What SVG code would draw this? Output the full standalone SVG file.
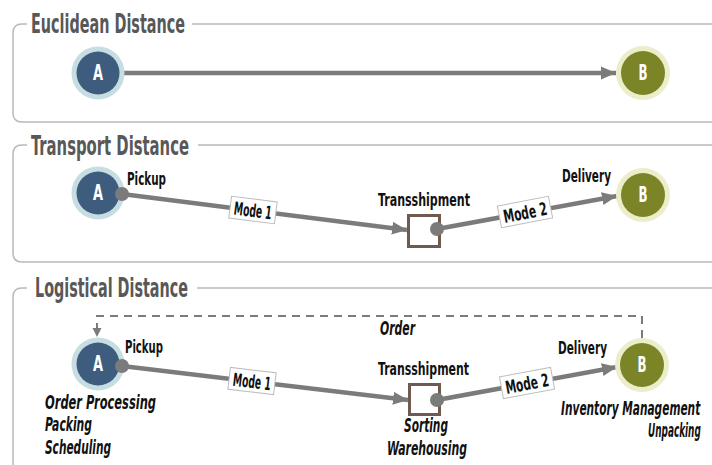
<svg xmlns="http://www.w3.org/2000/svg" width="712" height="465" viewBox="0 0 712 465">
  <style>
    .panel { fill: none; stroke: #b9b9b9; stroke-width: 1.5; }
    .title { font-family: "Liberation Sans Narrow", "DejaVu Sans Condensed", "Liberation Sans", sans-serif; font-stretch: condensed; font-size: 26px; fill: #585858; font-weight: bold; }
    .lbl { font-family: "Liberation Sans Narrow", "DejaVu Sans Condensed", "Liberation Sans", sans-serif; font-stretch: condensed; font-size: 18px; fill: #111; font-weight: bold; }
    .act { font-family: "Liberation Sans Narrow", "DejaVu Sans Condensed", "Liberation Sans", sans-serif; font-stretch: condensed; font-size: 19px; fill: #111; font-weight: bold; font-style: italic; }
    .nodeTxt { font-family: "Liberation Sans Narrow", "DejaVu Sans Condensed", "Liberation Sans", sans-serif; font-stretch: condensed; font-size: 21px; fill: #fff; font-weight: bold; text-anchor: middle; }
    .haloA { fill: #c6dde2; }
    .coreA { fill: #3e5c7e; }
    .haloB { fill: #eceecb; }
    .coreB { fill: #7b8427; }
    .flow { fill: none; stroke: #7b7b7b; stroke-width: 4.5; }
    .dot { fill: #7b7b7b; }
    .hub { fill: #fff; stroke: #6e5a4f; stroke-width: 3; }
    .tag { fill: #fff; stroke: #bcbcbc; stroke-width: 1; }
    .dash { fill: none; stroke: #7b7b7b; stroke-width: 2; stroke-dasharray: 8 6; }
  </style>
  <defs>
    <marker id="arrow" markerUnits="userSpaceOnUse" markerWidth="16" markerHeight="16" viewBox="0 0 16 16" refX="15" refY="8" orient="auto">
      <path d="M0,1.5 L15,8 L0,14.5 z" fill="#7b7b7b"/>
    </marker>
    <marker id="arrowSmall" markerUnits="userSpaceOnUse" markerWidth="10" markerHeight="10" viewBox="0 0 10 10" refX="9" refY="5" orient="auto">
      <path d="M0,0.5 L9,5 L0,9.5 z" fill="#7b7b7b"/>
    </marker>
  </defs>

  <rect width="712" height="465" fill="#fff"/>

  <!-- panel frames -->
  <g id="panels">
    <path class="panel" d="M27 24 H22 Q13 24 13 33 V113 Q13 122 22 122 H720 M192 24 H720"/>
    <path class="panel" d="M27 145 H22 Q13 145 13 154 V253 Q13 262 22 262 H720 M198 145 H720"/>
    <path class="panel" d="M27 288 H22 Q13 288 13 297 V480 M197 288 H720"/>
    <text class="title" x="31" y="33" textLength="154" lengthAdjust="spacingAndGlyphs">Euclidean Distance</text>
    <text class="title" x="31" y="155" textLength="158" lengthAdjust="spacingAndGlyphs">Transport Distance</text>
    <text class="title" x="35" y="297" textLength="153" lengthAdjust="spacingAndGlyphs">Logistical Distance</text>
  </g>

  <!-- connectors -->
  <g id="connectors">
    <line class="flow" x1="124" y1="73" x2="616" y2="73" marker-end="url(#arrow)"/>

    <line class="flow" x1="122" y1="194" x2="407" y2="230" marker-end="url(#arrow)"/>
    <line class="flow" x1="437" y1="229" x2="617" y2="196" marker-end="url(#arrow)"/>

    <line class="flow" x1="122" y1="366" x2="408" y2="400" marker-end="url(#arrow)"/>
    <line class="flow" x1="437" y1="400" x2="617" y2="367" marker-end="url(#arrow)"/>
    <path class="dash" d="M642 338 V316 H97 V337" marker-end="url(#arrowSmall)"/>
  </g>

  <!-- Euclidean panel nodes -->
  <g id="e-a">
    <circle class="haloA" cx="98" cy="73" r="26.5"/>
    <circle class="coreA" cx="98" cy="73" r="21.5"/>
    <text class="nodeTxt" x="98" y="80" textLength="10" lengthAdjust="spacingAndGlyphs">A</text>
  </g>
  <g id="e-b">
    <circle class="haloB" cx="643" cy="73" r="27"/>
    <circle class="coreB" cx="643" cy="73" r="22"/>
    <text class="nodeTxt" x="643" y="80" textLength="9" lengthAdjust="spacingAndGlyphs">B</text>
  </g>

  <!-- Transport panel nodes -->
  <g id="t-a">
    <circle class="haloA" cx="98" cy="193" r="26.5"/>
    <circle class="coreA" cx="98" cy="193" r="21.5"/>
    <text class="nodeTxt" x="98" y="200" textLength="10" lengthAdjust="spacingAndGlyphs">A</text>
    <circle class="dot" cx="122" cy="194" r="7"/>
    <text class="lbl" x="127" y="185" textLength="39" lengthAdjust="spacingAndGlyphs">Pickup</text>
  </g>
  <g id="t-hub">
    <rect class="hub" x="408.5" y="215.5" width="31" height="31"/>
    <circle class="dot" cx="437" cy="229" r="7"/>
    <text class="lbl" x="378" y="206" textLength="92" lengthAdjust="spacingAndGlyphs">Transshipment</text>
  </g>
  <g id="t-b">
    <circle class="haloB" cx="643" cy="195" r="27"/>
    <circle class="coreB" cx="643" cy="195" r="22"/>
    <text class="nodeTxt" x="643" y="202" textLength="9" lengthAdjust="spacingAndGlyphs">B</text>
    <text class="lbl" x="562" y="182" textLength="49" lengthAdjust="spacingAndGlyphs">Delivery</text>
  </g>
  <g id="t-mode1" transform="translate(253 210) rotate(7.2)">
    <rect class="tag" x="-23" y="-11" width="46" height="22"/>
    <text class="lbl" x="-19" y="7" textLength="38" lengthAdjust="spacingAndGlyphs">Mode 1</text>
  </g>
  <g id="t-mode2" transform="translate(525 212) rotate(-11)">
    <rect class="tag" x="-26" y="-11" width="52" height="22"/>
    <text class="lbl" x="-22" y="7" textLength="44" lengthAdjust="spacingAndGlyphs">Mode 2</text>
  </g>

  <!-- Logistical panel nodes -->
  <g id="l-a">
    <circle class="haloA" cx="98" cy="364" r="26.5"/>
    <circle class="coreA" cx="98" cy="364" r="21.5"/>
    <text class="nodeTxt" x="98" y="371" textLength="10" lengthAdjust="spacingAndGlyphs">A</text>
    <circle class="dot" cx="122" cy="366" r="7"/>
    <text class="lbl" x="125" y="353" textLength="38" lengthAdjust="spacingAndGlyphs">Pickup</text>
    <text class="act" x="45" y="409" textLength="111" lengthAdjust="spacingAndGlyphs">Order Processing</text>
    <text class="act" x="45" y="431" textLength="47" lengthAdjust="spacingAndGlyphs">Packing</text>
    <text class="act" x="45" y="454" textLength="66" lengthAdjust="spacingAndGlyphs">Scheduling</text>
  </g>
  <g id="l-hub">
    <rect class="hub" x="409.5" y="384.5" width="30" height="30"/>
    <circle class="dot" cx="437" cy="400" r="7"/>
    <text class="lbl" x="378" y="375" textLength="91" lengthAdjust="spacingAndGlyphs">Transshipment</text>
    <text class="act" x="404" y="432" textLength="44" lengthAdjust="spacingAndGlyphs">Sorting</text>
    <text class="act" x="387" y="455" textLength="80" lengthAdjust="spacingAndGlyphs">Warehousing</text>
  </g>
  <g id="l-b">
    <circle class="haloB" cx="642" cy="365" r="27"/>
    <circle class="coreB" cx="642" cy="365" r="22"/>
    <text class="nodeTxt" x="642" y="372" textLength="9" lengthAdjust="spacingAndGlyphs">B</text>
    <text class="lbl" x="558" y="354" textLength="49" lengthAdjust="spacingAndGlyphs">Delivery</text>
    <!-- horizontally squeezed so the long captions stay inside the right edge -->
    <text class="act" transform="translate(561 415) scale(0.6 1)" textLength="232" lengthAdjust="spacingAndGlyphs">Inventory Management</text>
    <text class="act" transform="translate(648 437) scale(0.6 1)" textLength="88" lengthAdjust="spacingAndGlyphs">Unpacking</text>
  </g>
  <g id="l-order">
    <text class="act" x="380" y="335" textLength="35" lengthAdjust="spacingAndGlyphs">Order</text>
  </g>
  <g id="l-mode1" transform="translate(252 381) rotate(6.8)">
    <rect class="tag" x="-23" y="-11" width="46" height="22"/>
    <text class="lbl" x="-19" y="7" textLength="38" lengthAdjust="spacingAndGlyphs">Mode 1</text>
  </g>
  <g id="l-mode2" transform="translate(527 383) rotate(-10.5)">
    <rect class="tag" x="-26" y="-11" width="52" height="22"/>
    <text class="lbl" x="-22" y="7" textLength="44" lengthAdjust="spacingAndGlyphs">Mode 2</text>
  </g>
</svg>
